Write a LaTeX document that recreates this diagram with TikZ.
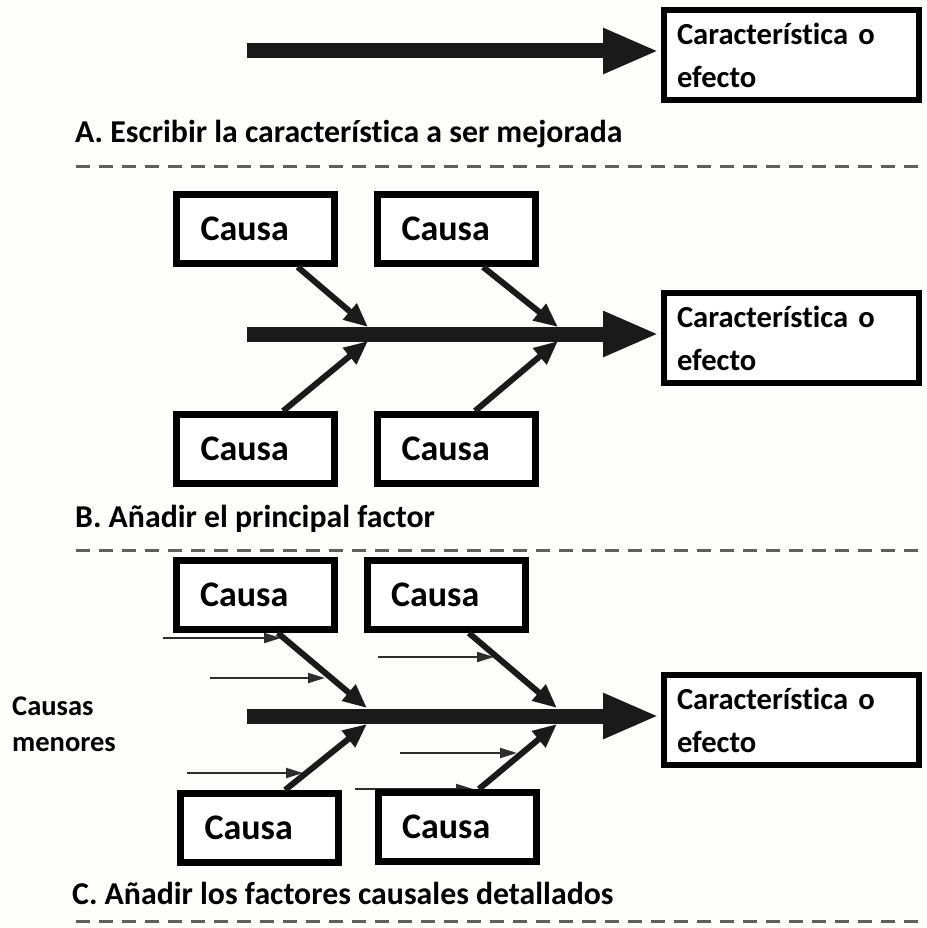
\documentclass[tikz,border=0pt]{standalone}
\usepackage{fontspec}
\setmainfont{Carlito}[Ligatures=NoCommon]
\usetikzlibrary{arrows.meta}

\definecolor{paper}{RGB}{253,253,251}
\definecolor{ink}{RGB}{26,26,26}
\definecolor{thinink}{RGB}{45,45,45}
\definecolor{dashgray}{RGB}{95,95,95}

\newcommand{\causafont}{\fontsize{36}{43}\selectfont\bfseries}
\newcommand{\efectofont}{\fontsize{30.6}{43}\selectfont\bfseries}
\newcommand{\pasofont}{\fontsize{31.8}{38}\selectfont\bfseries}
\newcommand{\menorfont}{\fontsize{28.5}{36}\selectfont\bfseries}

\begin{document}
\begin{tikzpicture}[x=1pt, y=-1pt,
    causa/.style={draw, line width=7pt, fill=white, text width=110pt, inner xsep=24pt, minimum height=69pt, align=left, font=\causafont},
    efecto/.style={draw, line width=6pt, fill=white, text width=229pt, inner xsep=13pt, minimum height=90pt, align=left, font=\efectofont},
    espina/.style={ink, line width=15pt, -{Triangle[length=56pt,width=42pt]}, shorten >=2pt},
    hueso/.style={ink, line width=6pt, -{Triangle[length=24pt,width=20pt]}},
    menor/.style={thinink, line width=2pt, -{Triangle[length=17pt,width=10pt]}},
    separador/.style={dashgray, line width=3pt, dash pattern=on 14pt off 9pt},
    paso/.style={anchor=base west, inner sep=0pt, font=\pasofont}]

    % Background
    \fill [paper] (0,0) rectangle (925,928);

    % Separators
    \draw [separador] (76,167) -- (925,167);
    \draw [separador] (76,550) -- (925,550);
    \draw [separador] (76,921) -- (925,921);

    % Minor causes (part C)
    \coordinate (m1a) at (163,638);
    \coordinate (m1b) at (281,638);
    \coordinate (m2a) at (210,678);
    \coordinate (m2b) at (325,678);
    \coordinate (m3a) at (187,773);
    \coordinate (m3b) at (303,773);
    \coordinate (m4a) at (378,657);
    \coordinate (m4b) at (494,657);
    \coordinate (m5a) at (400,753);
    \coordinate (m5b) at (517,753);
    \coordinate (m6a) at (355,789);
    \coordinate (m6b) at (473,789);
    \draw [menor] (m1a) -- (m1b);
    \draw [menor] (m2a) -- (m2b);
    \draw [menor] (m3a) -- (m3b);
    \draw [menor] (m4a) -- (m4b);
    \draw [menor] (m5a) -- (m5b);
    \draw [menor] (m6a) -- (m6b);

    % Part A
    \node [efecto] (efA) at (791.5,55) {Característica o\\efecto};
    \coordinate (colaA) at (247,51);
    \draw [espina] (colaA) -- (colaA -| efA.west);
    \node [paso] (pasoA) at (75,143) {A. Escribir la característica a ser mejorada};

    % Part B
    \node [causa] (cB1) at (255.5,229) {Causa};
    \node [causa] (cB2) at (456.5,229) {Causa};
    \node [causa] (cB3) at (255.5,449) {Causa};
    \node [causa] (cB4) at (456.5,449) {Causa};
    \node [efecto] (efB) at (791.5,338) {Característica o\\efecto};
    \coordinate (colaB) at (247,334);
    \draw [espina] (colaB) -- (colaB -| efB.west);
    \coordinate (tB1) at (368,327);
    \coordinate (tB2) at (558,327);
    \coordinate (tB3) at (368,341);
    \coordinate (tB4) at (558,341);
    \draw [hueso] (cB1.-42) -- (tB1);
    \draw [hueso] (cB2.-55) -- (tB2);
    \draw [hueso] (cB3.54) -- (tB3);
    \draw [hueso] (cB4.64) -- (tB4);
    \node [paso] (pasoB) at (75,527) {B. Añadir el principal factor};

    % Part C
    \node [causa] (cC1) at (255,595) {Causa};
    \node [causa] (cC2) at (446,595) {Causa};
    \node [causa] (cC3) at (259.5,828) {Causa};
    \node [causa] (cC4) at (457,827) {Causa};
    \node [efecto] (efC) at (791.5,720) {Característica o\\efecto};
    \coordinate (colaC) at (247,716);
    \draw [espina] (colaC) -- (colaC -| efC.west);
    \coordinate (tC1) at (367,708);
    \coordinate (tC2) at (557,708);
    \coordinate (tC3) at (367,724);
    \coordinate (tC4) at (557,724);
    \draw [hueso] (cC1.-59) -- (tC1);
    \draw [hueso] (cC2.-59) -- (tC2);
    \draw [hueso] (cC3.56) -- (tC3);
    \draw [hueso] (cC4.60) -- (tC4);
    \node [anchor=west, inner sep=0pt, align=left, font=\menorfont] (menores) at (12,724) {Causas\\menores};
    \node [paso] (pasoC) at (72,904) {C. Añadir los factores causales detallados};
\end{tikzpicture}
\end{document}
